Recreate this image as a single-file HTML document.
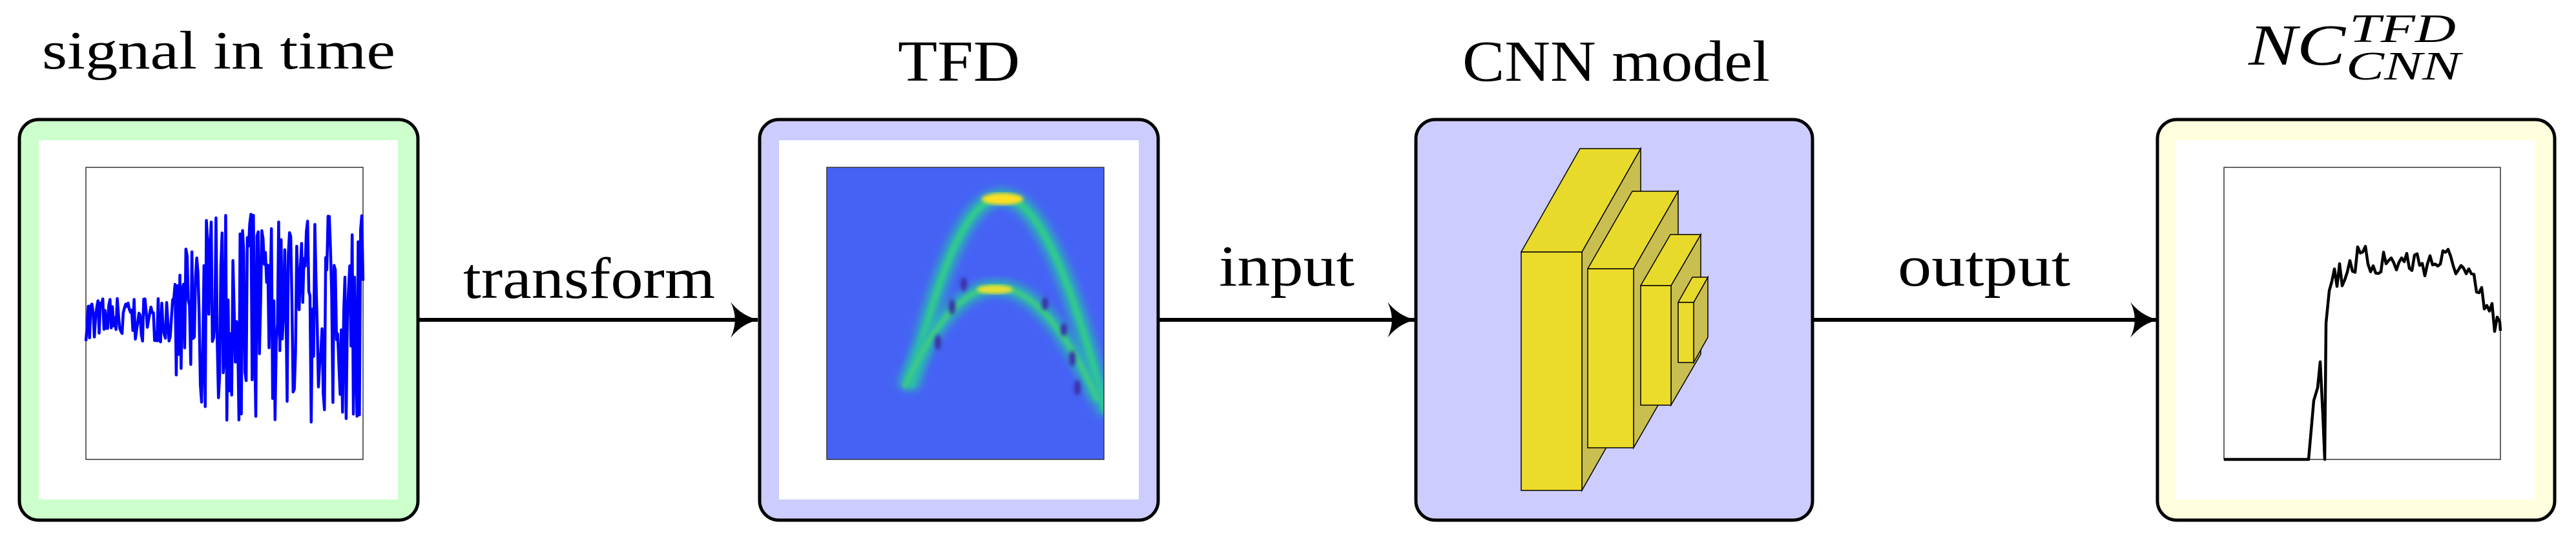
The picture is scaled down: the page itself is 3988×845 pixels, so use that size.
<!DOCTYPE html>
<html><head><meta charset="utf-8"><style>
html,body{margin:0;padding:0;background:#fff;}
svg{display:block;}
text{font-family:"Liberation Serif","DejaVu Serif",serif;fill:#000;}
</style></head><body>
<svg id="s" width="3988" height="845" viewBox="0 0 3988 845" xmlns="http://www.w3.org/2000/svg">
<defs>
<marker id="ah" viewBox="0 0 40 50" refX="38" refY="25" markerWidth="44" markerHeight="55" markerUnits="userSpaceOnUse" orient="auto">
<path d="M0,0 Q16,20 40,25 Q16,30 0,50 Q12,25 0,0Z" fill="#000"/>
</marker>
<filter id="bl"><feGaussianBlur stdDeviation="7"/></filter>
<filter id="bl2"><feGaussianBlur stdDeviation="3"/></filter>
<clipPath id="cp"><rect x="1280" y="259" width="429" height="452"/></clipPath>
</defs>

<g font-family="Liberation Serif, DejaVu Serif, serif">
<text x="65" y="106" font-size="84" textLength="547" lengthAdjust="spacingAndGlyphs">signal in time</text>
<text x="1390" y="125" font-size="90" textLength="189" lengthAdjust="spacingAndGlyphs">TFD</text>
<text x="2264" y="125" font-size="90" textLength="476" lengthAdjust="spacingAndGlyphs">CNN model</text>
<text x="3481" y="100" font-size="90" font-style="italic" textLength="150" lengthAdjust="spacingAndGlyphs">NC</text>
<text x="3637" y="65" font-size="62" font-style="italic" textLength="165" lengthAdjust="spacingAndGlyphs">TFD</text>
<text x="3632" y="123" font-size="62" font-style="italic" textLength="177" lengthAdjust="spacingAndGlyphs">CNN</text>
<text x="717" y="461" font-size="90" textLength="390" lengthAdjust="spacingAndGlyphs">transform</text>
<text x="1887" y="442" font-size="90" textLength="210" lengthAdjust="spacingAndGlyphs">input</text>
<text x="2938" y="442" font-size="90" textLength="267" lengthAdjust="spacingAndGlyphs">output</text>
</g>

<rect x="30" y="185" width="617" height="620" rx="30" fill="#ccffcc" stroke="#000" stroke-width="5"/>
<rect x="60" y="217" width="556" height="556" fill="#fff"/>
<rect x="133" y="259" width="429" height="452" fill="#fff" stroke="#333" stroke-width="1.5"/>
<path id="sig" fill="none" stroke="#0000ff" stroke-width="4.5" stroke-linejoin="round"/>

<line x1="647" y1="495" x2="1173" y2="495" stroke="#000" stroke-width="6" marker-end="url(#ah)"/>

<rect x="1176" y="185" width="617" height="620" rx="30" fill="#ccccff" stroke="#000" stroke-width="5"/>
<rect x="1206" y="217" width="557" height="556" fill="#fff"/>
<rect x="1280" y="259" width="429" height="452" fill="#4662f5"/>
<g clip-path="url(#cp)">
<path d="M1410,600 Q1550,-10 1712,640" fill="none" stroke="#2ab8b0" stroke-width="24" filter="url(#bl)"/>
<path d="M1410,600 Q1550,-10 1712,640" fill="none" stroke="#33cc88" stroke-width="8" filter="url(#bl2)"/>
<path d="M1400,600 Q1545,280 1700,620" fill="none" stroke="#2ab8b0" stroke-width="22" filter="url(#bl)"/>
<path d="M1400,600 Q1545,280 1700,620" fill="none" stroke="#40cc80" stroke-width="7" filter="url(#bl2)"/>
<ellipse cx="1552" cy="308" rx="32" ry="9" fill="#ffe020" filter="url(#bl2)"/>
<ellipse cx="1540" cy="448" rx="28" ry="7" fill="#e8e030" filter="url(#bl2)"/>
<g fill="#3a2fa8" filter="url(#bl2)">
<ellipse cx="1492" cy="440" rx="5" ry="11"/><ellipse cx="1474" cy="475" rx="5" ry="12"/><ellipse cx="1452" cy="530" rx="5" ry="12"/>
<ellipse cx="1618" cy="470" rx="5" ry="10"/><ellipse cx="1647" cy="510" rx="5" ry="10"/><ellipse cx="1660" cy="555" rx="5" ry="12"/><ellipse cx="1668" cy="600" rx="5" ry="12"/>
</g>
</g>
<rect x="1280" y="259" width="429" height="452" fill="none" stroke="#333" stroke-width="1.5"/>

<line x1="1793" y1="495" x2="2190" y2="495" stroke="#000" stroke-width="6" marker-end="url(#ah)"/>

<rect x="2192" y="185" width="614" height="620" rx="30" fill="#ccccff" stroke="#000" stroke-width="5"/>
<g stroke="#000" stroke-width="1.5">
<polygon points="2449,390 2540,230 2540,599 2449,759" fill="#c9be50"/>
<polygon points="2355,390 2446,230 2540,230 2449,390" fill="#e8da2a"/>
<rect x="2355" y="390" width="94" height="369" fill="#ebdb2a"/>
<polygon points="2529,416 2598,296 2598,573 2529,693" fill="#c9be50"/>
<polygon points="2458,416 2527,296 2598,296 2529,416" fill="#e8da2a"/>
<rect x="2458" y="416" width="71" height="277" fill="#ebdb2a"/>
<polygon points="2587,442 2633,363 2633,548 2587,627" fill="#c9be50"/>
<polygon points="2540,442 2586,363 2633,363 2587,442" fill="#e8da2a"/>
<rect x="2540" y="442" width="47" height="185" fill="#ebdb2a"/>
<polygon points="2622,468 2644,429 2644,522 2622,561" fill="#c9be50"/>
<polygon points="2598,468 2620,429 2644,429 2622,468" fill="#e8da2a"/>
<rect x="2598" y="468" width="24" height="93" fill="#ebdb2a"/>
</g>

<line x1="2806" y1="495" x2="3340" y2="495" stroke="#000" stroke-width="6" marker-end="url(#ah)"/>

<rect x="3340" y="185" width="615" height="620" rx="30" fill="#ffffdd" stroke="#000" stroke-width="5"/>
<rect x="3369" y="217" width="555" height="556" fill="#fff"/>
<rect x="3443" y="259" width="428" height="452" fill="#fff" stroke="#333" stroke-width="1.5"/>
<path id="out" fill="none" stroke="#000" stroke-width="4.5" stroke-linejoin="round"/>
</svg>
<script>
var seed=7;function r(){seed=(seed*16807)%2147483647;return seed/2147483647;}
var d="",x0=133,x1=562,n=230;
for(var i=0;i<=n;i++){var x=x0+(x1-x0)*i/n;var t=i/n;var a=t<0.32?35:(t<0.4?110:165);
var s=(r()<0.5?1:-1);var y=495+s*a*Math.pow(r(),0.8);d+=(i?"L":"M")+x.toFixed(1)+","+y.toFixed(1);}
document.getElementById("sig").setAttribute("d",d);
var o="M3443,711 L3574,711 L3582,620 L3588,600 L3592,560 L3596,640 L3599,711 L3601,500 L3606,450";
var xs=3606;while(xs<3868){xs+=4;var tt=(xs-3606)/262;var base=405+(tt>0.75?(tt-0.75)*400:0)+(tt<0.1?20:0);
o+=" L"+xs+","+(base+(r()*2-1)*25).toFixed(1);}
o+=" L3871,512";
document.getElementById("out").setAttribute("d",o);
</script>
</body></html>
